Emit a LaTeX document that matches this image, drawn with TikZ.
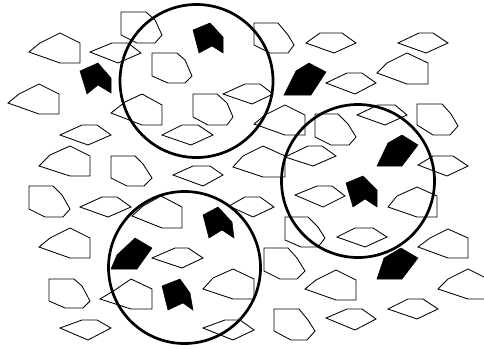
\documentclass[tikz,border=0pt]{standalone}
\begin{document}
\begin{tikzpicture}[x=1pt,y=-1pt,
  poly/.style={draw=black,line width=0.85pt,line join=miter},
  blk/.style={fill=black,draw=black,line width=0.5pt},
  ring/.style={draw=black,line width=2.7pt}]
\useasboundingbox (0,0) rectangle (484,348);
\fill[white] (0,0) rectangle (484,348);
% house-like hexagons
\draw[poly] (29,52)--(40,43)--(60,33)--(80,43)--(80,63)--(60,63)--cycle;
\draw[poly] (8,103)--(19,94)--(39,84)--(59,94)--(59,114)--(39,114)--cycle;
\draw[poly] (377,73)--(387,63)--(407,53)--(428,63)--(428,84)--(407,84)--cycle;
\draw[poly] (111,113)--(125,102)--(142,94)--(162,105)--(162,125)--(142,125)--cycle;
\draw[poly] (254,124)--(265,115)--(285,105)--(305,115)--(305,135)--(285,135)--cycle;
\draw[poly] (39,166)--(50,155)--(70,146)--(90,156)--(90,176)--(70,176)--cycle;
\draw[poly] (233,167)--(243,156)--(263,146)--(285,156)--(285,177)--(263,177)--cycle;
\draw[poly] (132,216)--(143,206)--(161,196)--(182,207)--(182,228)--(162,228)--cycle;
\draw[poly] (388,207)--(397,196)--(417,187)--(437,196)--(437,217)--(417,217)--cycle;
\draw[poly] (418,247)--(430,238)--(448,229)--(468,238)--(468,258)--(448,258)--cycle;
\draw[poly] (39,247)--(50,238)--(70,228)--(90,238)--(90,258)--(70,258)--cycle;
\draw[poly] (100,299)--(115,290)--(131,279)--(152,289)--(152,309)--(131,309)--cycle;
\draw[poly] (203,289)--(213,278)--(233,269)--(254,279)--(254,299)--(233,299)--cycle;
\draw[poly] (305,289)--(316,280)--(336,270)--(356,280)--(356,300)--(336,300)--cycle;
\draw[poly] (438,289)--(448,279)--(468,269)--(488,279)--(488,299)--(468,299)--cycle;
% flat pentagons
\draw[poly] (90,52)--(112,43)--(128,43)--(141,53)--(118,63)--cycle;
\draw[poly] (306,43)--(320,33)--(342,33)--(356,43)--(334,53)--cycle;
\draw[poly] (398,43)--(419,33)--(433,33)--(448,43)--(426,53)--cycle;
\draw[poly] (326,83)--(347,73)--(362,73)--(376,83)--(355,94)--cycle;
\draw[poly] (223,94)--(245,84)--(260,84)--(273,94)--(252,104)--cycle;
\draw[poly] (357,115)--(378,105)--(395,105)--(407,115)--(385,125)--cycle;
\draw[poly] (60,135)--(82,125)--(97,125)--(111,135)--(88,145)--cycle;
\draw[poly] (162,135)--(182,125)--(198,125)--(213,135)--(191,145)--cycle;
\draw[poly] (285,157)--(308,146)--(322,146)--(336,156)--(313,166)--cycle;
\draw[poly] (418,165)--(433,156)--(453,156)--(468,166)--(447,176)--cycle;
\draw[poly] (173,175)--(193,166)--(210,166)--(223,175)--(203,186)--cycle;
\draw[poly] (80,207)--(102,197)--(117,197)--(131,207)--(108,217)--cycle;
\draw[poly] (229,206)--(245,197)--(260,197)--(274,207)--(253,217)--cycle;
\draw[poly] (295,195)--(317,186)--(332,186)--(345,196)--(323,207)--cycle;
\draw[poly] (337,237)--(355,228)--(373,228)--(387,237)--(365,247)--cycle;
\draw[poly] (152,258)--(175,248)--(188,248)--(203,258)--(182,268)--cycle;
\draw[poly] (388,309)--(408,299)--(423,299)--(438,309)--(417,319)--cycle;
\draw[poly] (60,328)--(82,320)--(97,320)--(111,328)--(88,340)--cycle;
\draw[poly] (203,328)--(225,320)--(240,320)--(254,330)--(233,340)--cycle;
\draw[poly] (326,318)--(347,309)--(362,309)--(376,319)--(355,330)--cycle;
% rounded heptagons
\draw[poly] (121,12)--(146,12)--(155,20)--(162,35)--(155,43)--(137,43)--(121,35)--cycle;
\draw[poly] (152,53)--(177,53)--(185,60)--(192,76)--(185,83)--(168,83)--(152,76)--cycle;
\draw[poly] (254,23)--(278,23)--(288,35)--(294,45)--(288,53)--(270,53)--(254,45)--cycle;
\draw[poly] (193,94)--(217,94)--(227,103)--(233,117)--(227,125)--(208,125)--(193,117)--cycle;
\draw[poly] (315,114)--(338,114)--(348,124)--(356,137)--(349,145)--(331,145)--(315,137)--cycle;
\draw[poly] (417,104)--(442,104)--(451,114)--(458,126)--(450,135)--(433,135)--(417,125)--cycle;
\draw[poly] (111,156)--(135,156)--(143,164)--(152,178)--(144,186)--(127,186)--(111,178)--cycle;
\draw[poly] (29,186)--(53,186)--(62,195)--(70,209)--(63,217)--(45,217)--(29,209)--cycle;
\draw[poly] (285,217)--(308,217)--(318,227)--(325,238)--(318,247)--(301,247)--(285,240)--cycle;
\draw[poly] (264,248)--(288,248)--(297,258)--(305,271)--(297,279)--(280,279)--(264,271)--cycle;
\draw[poly] (49,279)--(74,279)--(82,286)--(90,301)--(83,308)--(65,308)--(49,301)--cycle;
\draw[poly] (274,309)--(299,309)--(308,320)--(315,331)--(307,340)--(291,340)--(274,331)--cycle;
% black chevrons
\filldraw[blk] (80,71)--(98,63)--(111,78)--(111,93)--(98,85)--(87,94)--cycle;
\filldraw[blk] (193,30)--(210,23)--(223,37)--(223,53)--(212,46)--(199,53)--cycle;
\filldraw[blk] (203,215)--(218,207)--(232,222)--(234,238)--(222,230)--(209,238)--cycle;
\filldraw[blk] (346,183)--(363,176)--(377,190)--(377,207)--(365,199)--(353,207)--cycle;
\filldraw[blk] (162,286)--(180,279)--(190,293)--(193,310)--(183,303)--(168,310)--cycle;
% black pentagons
\filldraw[blk] (284,95)--(296,71)--(309,63)--(326,72)--(311,95)--cycle;
\filldraw[blk] (377,166)--(388,143)--(402,135)--(418,145)--(402,166)--cycle;
\filldraw[blk] (111,269)--(117,255)--(135,238)--(152,248)--(137,269)--cycle;
\filldraw[blk] (377,279)--(384,258)--(401,248)--(418,258)--(402,279)--cycle;
% circles
\draw[ring] (196.5,81) circle[radius=76.5];
\draw[ring] (358,181) circle[radius=76.5];
\draw[ring] (184.5,267.5) circle[radius=76];
\end{tikzpicture}
\end{document}
